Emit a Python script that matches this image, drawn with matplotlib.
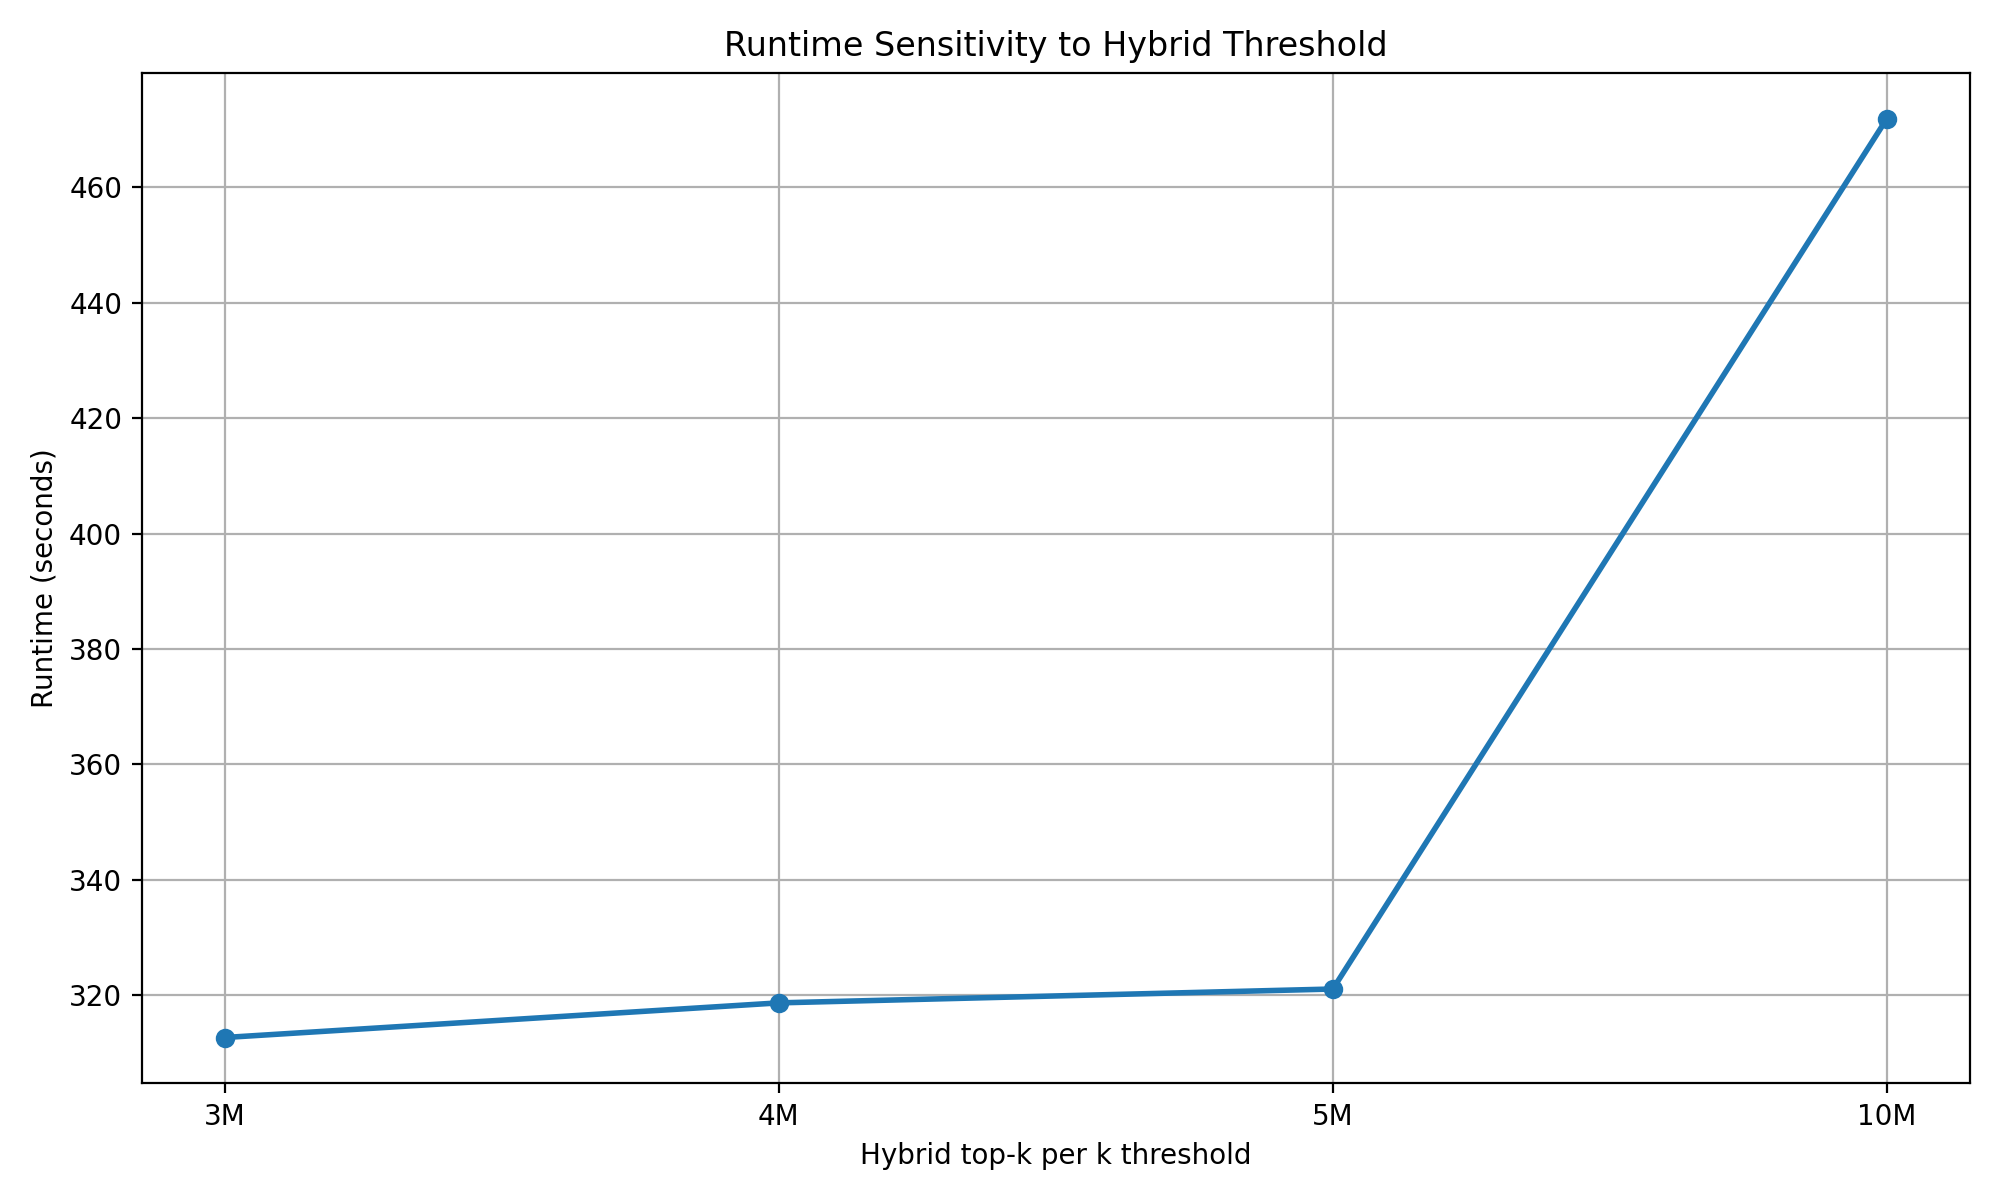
import matplotlib
matplotlib.use("Agg")
import matplotlib.pyplot as plt

thresholds = ["3M", "4M", "5M", "10M"]
runtimes = [312.7, 318.7, 321.1, 471.9]

fig, ax = plt.subplots(figsize=(10, 6), dpi=200)
ax.plot(range(len(thresholds)), runtimes, marker="o", linewidth=2, color="#1f77b4")
ax.set_xticks(range(len(thresholds)))
ax.set_xticklabels(thresholds)
ax.set_xlabel("Hybrid top-k per k threshold")
ax.set_ylabel("Runtime (seconds)")
ax.set_title("Runtime Sensitivity to Hybrid Threshold")
ax.grid(True)
fig.tight_layout()
fig.savefig("out.png")
